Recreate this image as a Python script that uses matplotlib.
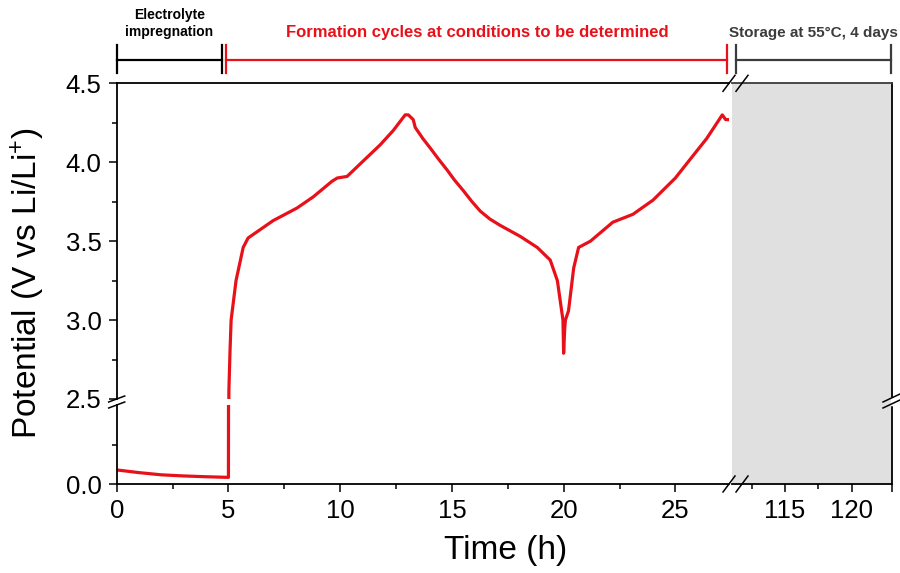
import matplotlib
matplotlib.use("Agg")
import matplotlib.pyplot as plt
from matplotlib.lines import Line2D
import matplotlib.transforms as mtransforms

plt.rcParams['font.family'] = ['Liberation Sans', 'DejaVu Sans']
plt.rcParams['mathtext.default'] = 'regular'

# potential trace (time in h, potential in V vs Li/Li+)
time_h = [0, 1, 2, 3, 4, 4.98,
          5.0, 5.02, 5.07, 5.12, 5.34, 5.66, 5.88, 7.0, 8.07, 8.79, 9.64, 9.87,
          10.31, 10.9, 11.79, 12.37, 12.91, 13.05, 13.27, 13.36, 13.7, 14.03,
          14.4, 14.79, 15.1, 15.51, 15.9, 16.27, 16.7, 17.16, 18.06, 18.82,
          19.4, 19.72, 19.85, 19.97, 20.0, 20.05, 20.08, 20.22, 20.45, 20.67,
          21.2, 21.7, 22.2, 23.1, 24.0, 25.0, 25.67, 26.4, 27.1, 27.25, 27.38]
potential_v = [0.089, 0.072, 0.058, 0.051, 0.046, 0.042,
               0.042, 2.55, 2.8, 3.0, 3.25, 3.46, 3.52, 3.63, 3.71, 3.78, 3.88,
               3.90, 3.91, 3.99, 4.11, 4.20, 4.30, 4.30, 4.27, 4.22, 4.15, 4.09,
               4.02, 3.95, 3.89, 3.82, 3.75, 3.69, 3.64, 3.60, 3.53, 3.46,
               3.38, 3.25, 3.12, 3.0, 2.79, 2.95, 3.0, 3.06, 3.33, 3.46,
               3.50, 3.56, 3.62, 3.67, 3.76, 3.90, 4.02, 4.15, 4.30, 4.27, 4.27]

# experiment phases (h) for the brackets above the plot
phase_labels = ['Electrolyte\nimpregnation',
                'Formation cycles at conditions to be determined',
                'Storage at 55°C, 4 days']
phase_spans = [(0, 4.72), (4.9, 27.33), (111.32, 122.95)]
phase_colors = ['black', '#e8111a', '#3c3c3c']
phase_sizes = [10, 12, 11]

RED = '#e8111a'
W, H = 900, 573

fig = plt.figure(figsize=(9, 5.73), dpi=100)


def box(x0, x1, y0, y1):
    return [x0 / W, 1 - y1 / H, (x1 - x0) / W, (y1 - y0) / H]


ax_r = fig.add_axes(box(731.7, 891.7, 83.3, 484))
ax_top = fig.add_axes(box(116.7, 729, 83.3, 399))
ax_bot = fig.add_axes(box(116.7, 729, 405, 484), sharex=ax_top)

for ax in (ax_top, ax_bot):
    ax.plot(time_h, potential_v, color=RED, lw=2.3, solid_joinstyle='round')
    ax.set_facecolor('none')

ax_top.set_xlim(0, 27.4)
ax_top.set_ylim(2.5, 4.5)
ax_bot.set_ylim(0, 0.5)

ax_top.set_yticks([2.5, 3.0, 3.5, 4.0, 4.5])
ax_top.set_yticks([2.75, 3.25, 3.75, 4.25], minor=True)
ax_bot.set_yticks([0.0])
ax_bot.set_yticks([0.25], minor=True)
ax_bot.set_xticks([0, 5, 10, 15, 20, 25])
ax_bot.set_xticks([2.5, 7.5, 12.5, 17.5, 22.5], minor=True)

ax_top.spines['right'].set_visible(False)
ax_top.spines['bottom'].set_visible(False)
ax_bot.spines['right'].set_visible(False)
ax_bot.spines['top'].set_visible(False)
ax_top.tick_params(axis='x', which='both', bottom=False, labelbottom=False)

for ax in (ax_top, ax_bot, ax_r):
    for s in ax.spines.values():
        s.set_linewidth(1.3)
    ax.tick_params(which='major', direction='out', length=6, width=1.1,
                   labelsize=18.5, pad=5)
    ax.tick_params(which='minor', direction='out', length=3.8, width=1.1)
for ax in (ax_top, ax_bot):
    ax.yaxis.set_major_formatter(plt.FormatStrFormatter('%.1f'))

# storage panel
ax_r.set_facecolor('#e0e0e0')
ax_r.set_xlim(111, 123)
ax_r.set_ylim(0, 1)
ax_r.set_yticks([])
ax_r.spines['left'].set_visible(False)
ax_r.spines['top'].set_color('#3c3c3c')
ax_r.set_xticks([115, 120, 123], labels=['115', '120', ''])
ax_r.set_xticks([112.5, 117.5], minor=True)

fig.text(28 / W, 1 - 283 / H, 'Potential (V vs Li/Li$^{+}$)', rotation=90,
         ha='center', va='center', fontsize=24)
fig.text(506 / W, 1 - 550 / H, 'Time (h)', ha='center', va='center',
         fontsize=24)


def fig_line(xs, ys, **kw):
    fig.add_artist(Line2D([x / W for x in xs], [1 - y / H for y in ys],
                          transform=fig.transFigure, **kw))


# axis break marks
fig_line([892, 892], [399, 404], color='white', lw=2.5)
for xc in (729, 742):
    for yc in (83.3, 484):
        fig_line([xc - 6, xc + 6], [yc + 8, yc - 8], color='black', lw=1.1)
for yc in (399, 405):
    fig_line([116.7 - 8, 116.7 + 8], [yc + 3, yc - 3], color='black', lw=1.1)
for yc in (398, 404):
    fig_line([883, 900], [yc + 4, yc - 4], color='black', lw=1.1)

# phase brackets above the plot
bar_y, tick_lo, tick_hi = 1 - 60 / H, 1 - 73 / H, 1 - 45 / H
for i, (lab, (x0, x1), col, fs) in enumerate(zip(phase_labels, phase_spans,
                                                  phase_colors, phase_sizes)):
    ax = ax_r if i == 2 else ax_top
    tr = mtransforms.blended_transform_factory(ax.transData, fig.transFigure)
    for ln in ([x0, x1], [bar_y, bar_y]), ([x0, x0], [tick_lo, tick_hi]), \
              ([x1, x1], [tick_lo, tick_hi]):
        ax.add_line(Line2D(ln[0], ln[1], transform=tr, color=col, lw=1.6,
                           clip_on=False))
    ty = 1 - 23.5 / H if i == 0 else 1 - 32.5 / H
    ax.text((x0 + x1) / 2, ty, lab, transform=tr, ha='center', va='center',
            color=col, fontsize=fs, fontweight='bold', linespacing=1.35)

ax_top.set_xlim(0, 27.4)
ax_r.set_xlim(111, 123)

fig.savefig('out.png', dpi=100)
